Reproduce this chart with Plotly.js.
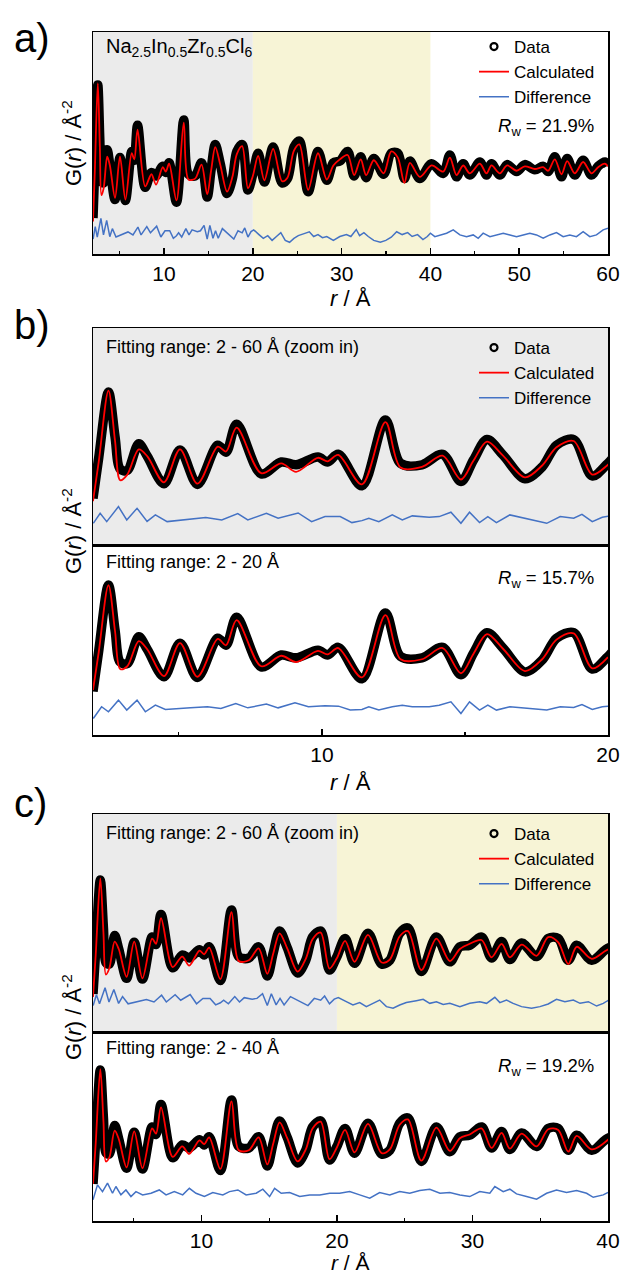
<!DOCTYPE html>
<html>
<head>
<meta charset="utf-8">
<script src="https://cdn.plot.ly/plotly-3.0.1.min.js"></script>
<style>
  html, body { margin: 0; padding: 0; background: #fff; }
  #fig { width: 622px; height: 1277px; }
</style>
</head>
<body>
<div id="fig"></div>
<script>
// ---- Experimental G(r) (turning points of the measured curve), r in Å ----
const dataR = [2.0, 2.2, 2.54, 2.77, 2.95, 3.2, 3.6, 3.9, 4.48, 5.04,
  5.65, 6.36, 6.65, 7.02, 7.88, 8.58, 9.1, 9.86, 10.2, 10.57,
  11.4, 12.22, 12.75, 13.5, 14.22, 14.86, 15.3, 15.77, 16.33, 17.1,
  17.7, 18.2, 18.8, 19.45, 20.0,
  20.6, 21.3, 22.29, 23.3, 23.9, 24.63, 25.24, 26.23, 27.34, 28.33,
  29.07, 29.8, 30.67, 31.41, 32.15, 32.76, 33.63, 34.73, 35.59, 36.33,
  37.07, 37.69, 38.8, 40.13,
  41.44, 42.19, 42.94, 43.69, 44.44, 45.57, 46.32, 46.88, 47.82, 48.64,
  49.7, 50.63, 51.76, 52.7, 53.26, 54.01, 54.76, 55.4, 56.26, 57.2,
  58.14, 58.89, 59.64, 60.0];
const dataG = [-2.6, 0.3, 5.0, 1.8, -0.5, -0.6, 1.3, 0.4, -1.55, 0.85,
  -1.6, 1.2, 0.7, 2.7, -0.85, 0.0, -0.2, 0.35, 0.0, 0.55,
  -1.7, 3.0, -0.1, -0.2, 0.55, -1.4, 0.15, 1.6, 0.5, -1.2,
  -0.35, 1.2, 1.6, -1.0, -0.1,
  1.1, -0.55, 1.45, -0.6, -0.35, 1.45, 1.8, -1.1, 1.2, -0.45,
  0.55, 0.65, 1.2, -0.2, 0.9, -0.3, 0.8, -0.1, 1.1, 1.1,
  -0.35, 0.65, -0.35, 0.5,
  -0.05, 1.0, -0.25, 0.5, -0.15, 0.6, -0.15, 0.5, -0.15, 0.45,
  0.05, 0.45, 0.15, 0.35, 0.05, 0.9, -0.25, 0.8, -0.15, 0.7,
  -0.15, 0.35, 0.6, 0.4];

// ---- Calculated curves (same r points as dataR, from the start) ----
const calc60 = [-2.8, 0.0, 5.1, 1.5, -1.3, -0.9, 0.9, 0.4, -1.45, 0.9,
  -1.55, 1.1, 0.75, 2.45, -0.8, -0.1, -0.7, 0.3, 0.05, 0.5,
  -1.6, 2.85, -0.4, -0.35, 0.45, -1.25, 0.1, 1.45, 0.45, -1.1,
  -0.25, 1.05, 1.5, -0.9, -0.2,
  0.95, -0.45, 1.35, -0.5, -0.3, 1.25, 1.6, -1.0, 1.1, -0.4,
  0.4, 0.75, 1.0, -0.15, 0.75, -0.15, 0.7, -0.05, 1.2, 0.85,
  -0.6, 0.55, -0.25, 0.4,
  0.05, 0.85, -0.15, 0.4, -0.05, 0.5, -0.05, 0.4, -0.05, 0.4,
  0.1, 0.35, 0.2, 0.3, 0.1, 0.75, -0.1, 0.65, -0.05, 0.6,
  -0.05, 0.3, 0.5, 0.35];
const calc20 = [-2.5, 0.2, 5.0, 1.7, -1.0, -0.8, 1.0, 0.4, -1.5, 0.85,
  -1.55, 1.15, 0.7, 2.5, -0.8, -0.05, -0.5, 0.3, 0.05, 0.5,
  -1.6, 2.85, -0.3, -0.3, 0.5, -1.3, 0.1, 1.5, 0.45, -1.15,
  -0.3, 1.1, 1.55, -0.95, -0.15];
const calc40 = [-2.6, 0.1, 5.05, 1.6, -1.1, -0.85, 0.95, 0.4, -1.5, 0.9,
  -1.55, 1.1, 0.75, 2.5, -0.8, -0.1, -0.6, 0.3, 0.05, 0.5,
  -1.6, 2.9, -0.35, -0.35, 0.5, -1.3, 0.1, 1.5, 0.45, -1.1,
  -0.3, 1.1, 1.55, -0.95, -0.15,
  1.0, -0.5, 1.4, -0.55, -0.3, 1.35, 1.7, -1.05, 1.15, -0.4,
  0.45, 0.7, 1.1, -0.2, 0.8, -0.25, 0.75, -0.1, 1.05, 1.0,
  -0.45, 0.6, -0.3, 0.45];

// ---- Difference curves (data - calculated) ----
const diff60R = [2.01, 2.25, 2.48, 2.89, 3.18, 3.54, 3.89, 4.18, 4.59, 5.2,
  5.94, 6.5, 7.06, 7.41, 8.06, 8.47, 9.17, 9.64, 10.11, 10.64,
  11.05, 11.4, 11.64, 11.99, 12.46, 12.81, 13.16, 13.75, 14.1, 14.51,
  14.86, 15.16, 15.51, 15.8, 16.1, 16.57, 17.27, 17.86, 18.33, 18.8,
  19.09, 19.45, 19.8, 20.1,
  20.69, 21.18, 21.68, 22.17, 22.66, 23.15, 23.65, 24.14, 24.63, 25.12,
  25.86, 26.36, 26.85, 27.34, 27.84, 28.33, 29.07, 29.8, 30.54, 31.04,
  31.65, 32.02, 32.51, 33.0, 33.62, 34.36, 34.98, 35.59, 36.2, 36.82,
  37.44, 37.94, 38.55, 39.16, 39.65,
  40.0, 40.5, 41.07, 41.82, 42.57, 43.32, 44.07, 44.82, 45.38, 45.94,
  46.7, 47.45, 48.2, 48.95, 49.7, 50.45, 51.2, 51.95, 52.7, 53.45,
  54.2, 54.95, 55.7, 56.45, 57.2, 57.95, 58.7, 59.45, 60.0];
const diff60 = [-0.24, 0.48, -0.12, 0.95, 0.0, 0.83, -0.1, 0.36, -0.12, 0.0,
  0.17, 0.0, 0.45, 0.0, 0.48, 0.12, 0.5, -0.12, 0.24, 0.24,
  -0.19, -0.05, 0.12, -0.12, 0.36, 0.0, 0.29, 0.19, 0.24, 0.55,
  -0.24, 0.55, -0.19, 0.24, -0.19, 0.36, 0.05, -0.24, 0.24, 0.12,
  0.4, -0.12, 0.19, 0.29,
  0.02, -0.2, -0.04, -0.31, -0.09, 0.13, -0.31, -0.42, -0.2, -0.04,
  0.09, 0.18, -0.09, 0.02, -0.16, -0.09, -0.31, -0.09, 0.02, -0.09,
  0.31, -0.04, 0.13, -0.09, -0.31, -0.42, -0.31, -0.13, 0.18, 0.02,
  0.13, -0.09, 0.02, -0.27, -0.09,
  0.1, -0.1, 0.0, 0.1, 0.29, 0.0, -0.1, 0.0, -0.19, 0.1,
  -0.1, 0.0, 0.1, 0.0, -0.1, 0.0, 0.1, 0.0, -0.19, 0.0,
  0.13, -0.1, 0.0, -0.1, 0.19, -0.1, 0.0, 0.29, 0.38];

const diff20R = [2.01, 2.3, 2.54, 2.89, 3.18, 3.54, 3.83, 4.18, 4.53, 4.94,
  5.41, 6.0, 6.47, 6.99, 7.41, 8.06, 8.47, 9.06, 9.53, 10.11,
  10.58, 10.99, 11.4, 11.64, 11.99, 12.46, 12.81, 13.16, 13.75, 14.1,
  14.51, 14.86, 15.16, 15.51, 15.8, 16.1, 16.57, 17.27, 17.86, 18.33,
  18.8, 19.09, 19.45, 19.8, 20.1];
const diff20 = [-0.74, 0.1, -0.26, 0.57, -0.14, 0.57, -0.26, 0.21, -0.1, -0.02,
  0.02, 0.1, -0.02, 0.33, 0.02, 0.29, 0.02, 0.38, 0.1, 0.17,
  0.14, -0.14, -0.1, 0.1, -0.14, 0.1, 0.21, 0.1, 0.1, 0.21,
  0.45, -0.38, 0.45, -0.14, 0.21, -0.14, 0.1, -0.02, -0.14, 0.1,
  0.05, 0.26, -0.1, 0.1, 0.14];

const diff40R = [2.0, 2.33, 2.7, 3.07, 3.44, 3.69, 4.06, 4.43, 4.8, 5.17,
  5.66, 6.28, 6.89, 7.39, 8.0, 8.62, 9.11, 9.6, 10.22, 10.84,
  11.58, 12.07, 12.69, 13.3, 14.04, 14.53, 15.03, 15.4, 15.89, 16.51,
  17.25, 17.99, 18.73, 19.47, 20.2, 20.94, 21.68, 22.42, 23.15, 23.9,
  24.63, 25.37, 26.11, 26.85, 27.6, 28.33, 29.07, 29.8, 30.54, 31.28,
  31.65, 32.27, 32.76, 33.25, 33.99, 34.73, 35.47, 36.2, 36.94, 37.68,
  38.42, 38.91, 39.65, 40.0];
const diff40 = [-0.53, 0.47, 0.02, 0.58, -0.09, 0.36, -0.2, 0.13, -0.31, 0.02,
  -0.2, -0.09, 0.13, -0.2, 0.02, -0.2, 0.24, -0.09, -0.31, -0.04,
  -0.2, 0.02, 0.13, -0.2, -0.09, 0.18, -0.31, 0.24, -0.09, -0.04,
  -0.31, -0.2, -0.2, -0.09, -0.09, 0.02, -0.2, -0.42, -0.04, -0.2,
  0.02, -0.09, 0.09, 0.18, -0.09, -0.04, -0.2, -0.31, 0.02, -0.09,
  0.36, 0.02, 0.18, -0.13, -0.31, -0.49, -0.09, 0.13, -0.04, 0.09,
  -0.09, -0.36, -0.2, -0.04];

// ---- Text ----
const compound = 'Na<sub>2.5</sub>In<sub>0.5</sub>Zr<sub>0.5</sub>Cl<sub>6</sub>';
const rangeLabels = ['Fitting range: 2 - 60 Å (zoom in)', 'Fitting range: 2 - 20 Å',
  'Fitting range: 2 - 60 Å (zoom in)', 'Fitting range: 2 - 40 Å'];
const rwValues = ['21.9%', '15.7%', '19.2%'];
const seriesNames = ['Data', 'Calculated', 'Difference'];

// ---- Page geometry (pixels) ----
const W = 622, H = 1277;
const fx = v => v / W;
const fy = v => 1 - v / H;
const FONT = '"Liberation Sans", Arial, sans-serif';
const X0 = 93, X1 = 608;
const GREY = '#ebebeb', YELLOW = '#f7f4d6';
const RED = '#ff0000', BLUE = '#4472c4';

const panels = [
  { ax: '',  top: 32,   bot: 254,  xr: [2, 60], yr: [-4.66, 8.03], off: -3.57, calc: calc60, dR: diff60R, d: diff60, ticks: true,  legend: 'legend' },
  { ax: '2', top: 328,  bot: 545,  xr: [2, 20], yr: [-5.93, 9.57], off: -4.14, calc: calc60, dR: diff60R, d: diff60, ticks: false, legend: 'legend2' },
  { ax: '3', top: 545,  bot: 735,  xr: [2, 20], yr: [-5.71, 7.86], off: -3.79, calc: calc20, dR: diff20R, d: diff20, ticks: true,  legend: null },
  { ax: '4', top: 814,  bot: 1032, xr: [2, 40], yr: [-5.13, 9.40], off: -3.13, calc: calc60, dR: diff60R, d: diff60, ticks: false, legend: 'legend3' },
  { ax: '5', top: 1032, bot: 1221, xr: [2, 40], yr: [-5.07, 7.53], off: -3.13, calc: calc40, dR: diff40R, d: diff40, ticks: true,  legend: null }
];

const traces = [];
const layout = {
  width: W, height: H,
  margin: { l: 0, r: 0, t: 0, b: 0 },
  paper_bgcolor: '#fff', plot_bgcolor: 'rgba(0,0,0,0)',
  font: { family: FONT, color: '#000' },
  shapes: [], annotations: []
};

panels.forEach(p => {
  const xa = 'x' + p.ax, ya = 'y' + p.ax;
  const leg = p.legend;
  // measured data: heavy black band
  traces.push({ x: dataR, y: dataG, xaxis: xa, yaxis: ya, mode: 'lines',
    line: { color: '#000', width: 9.5, shape: 'spline', smoothing: 0.9 },
    showlegend: false, hoverinfo: 'skip' });
  if (leg) {
    traces.push({ x: [null], y: [null], xaxis: xa, yaxis: ya, mode: 'markers', name: seriesNames[0],
      marker: { symbol: 'circle-open', size: 7, color: '#000', line: { width: 2.2, color: '#000' } },
      legend: leg, showlegend: true });
  }
  traces.push({ x: dataR.slice(0, p.calc.length), y: p.calc, xaxis: xa, yaxis: ya, mode: 'lines',
    name: seriesNames[1], line: { color: RED, width: 1.8, shape: 'spline', smoothing: 0.9 },
    legend: leg || 'legend', showlegend: !!leg });
  traces.push({ x: p.dR, y: p.d.map(v => v + p.off), xaxis: xa, yaxis: ya, mode: 'lines',
    name: seriesNames[2], line: { color: BLUE, width: 1.5 },
    legend: leg || 'legend', showlegend: !!leg });

  layout['xaxis' + p.ax] = {
    domain: [fx(X0), fx(X1)], range: p.xr, anchor: ya,
    showline: true, mirror: true, linecolor: '#000', linewidth: 1.5,
    showgrid: false, zeroline: false,
    ticks: p.ticks ? 'inside' : '', ticklen: 6, tickwidth: 1.5, tickcolor: '#000',
    tick0: 0, dtick: 10, showticklabels: p.ticks,
    tickfont: { family: FONT, size: 21, color: '#000' },
    minor: p.ticks ? { ticks: 'inside', ticklen: 3.5, tickwidth: 1.2, tick0: 0, dtick: 5, tickcolor: '#000', showgrid: false } : {},
    fixedrange: true
  };
  layout['yaxis' + p.ax] = {
    domain: [fy(p.bot), fy(p.top)], range: p.yr, anchor: xa,
    showline: true, mirror: true, linecolor: '#000', linewidth: 1.5,
    showgrid: false, zeroline: false, ticks: '', showticklabels: false, fixedrange: true
  };
});

// shaded fitting windows
function band(ax, x0, x1, color) {
  layout.shapes.push({ type: 'rect', xref: 'x' + ax, yref: 'y' + ax + ' domain',
    x0: x0, x1: x1, y0: 0, y1: 1, fillcolor: color, line: { width: 0 }, layer: 'below' });
}
band('', 2, 20, GREY); band('', 20, 40, YELLOW);
band('2', 2, 20, GREY);
band('4', 2, 20, GREY); band('4', 20, 40, YELLOW);

// legends
function legendAt(topPx) {
  return { x: fx(474), y: fy(topPx), xanchor: 'left', yanchor: 'top',
    bgcolor: 'rgba(0,0,0,0)', borderwidth: 0, tracegroupgap: 0,
    font: { family: FONT, size: 17, color: '#000' }, traceorder: 'normal' };
}
layout.legend = legendAt(29);
layout.legend2 = legendAt(330);
layout.legend3 = legendAt(816);

// annotations
function note(text, xPx, yPx, size, opts) {
  layout.annotations.push(Object.assign({ text: text, xref: 'paper', yref: 'paper',
    x: fx(xPx), y: fy(yPx), xanchor: 'left', yanchor: 'middle', showarrow: false,
    font: { family: FONT, size: size, color: '#000' } }, opts || {}));
}
note('a)', 12, 38, 40);
note('b)', 12, 325, 40);
note('c)', 12, 803, 40);

note(compound, 104, 48, 20);
note(rangeLabels[0], 104, 347, 18);
note(rangeLabels[1], 104, 562, 18);
note(rangeLabels[2], 104, 833, 18);
note(rangeLabels[3], 104, 1048, 18);

const rw = v => '<i>R</i><sub>w</sub> = ' + v;
note(rw(rwValues[0]), 596, 127, 18.5, { xanchor: 'right' });
note(rw(rwValues[1]), 596, 579, 18.5, { xanchor: 'right' });
note(rw(rwValues[2]), 596, 1067, 18.5, { xanchor: 'right' });

const xTitle = '<i>r</i> / Å';
note(xTitle, 350, 299, 22, { xanchor: 'center' });
note(xTitle, 350, 782, 22, { xanchor: 'center' });
note(xTitle, 350, 1262, 21, { xanchor: 'center' });

const yTitle = 'G(<i>r</i>) / Å<sup>-2</sup>';
note(yTitle, 72, 143, 22, { xanchor: 'center', textangle: -90 });
note(yTitle, 72, 531, 22, { xanchor: 'center', textangle: -90 });
note(yTitle, 72, 1017, 22, { xanchor: 'center', textangle: -90 });

Plotly.newPlot('fig', traces, layout, { staticPlot: true, displayModeBar: false });
</script>
</body>
</html>
